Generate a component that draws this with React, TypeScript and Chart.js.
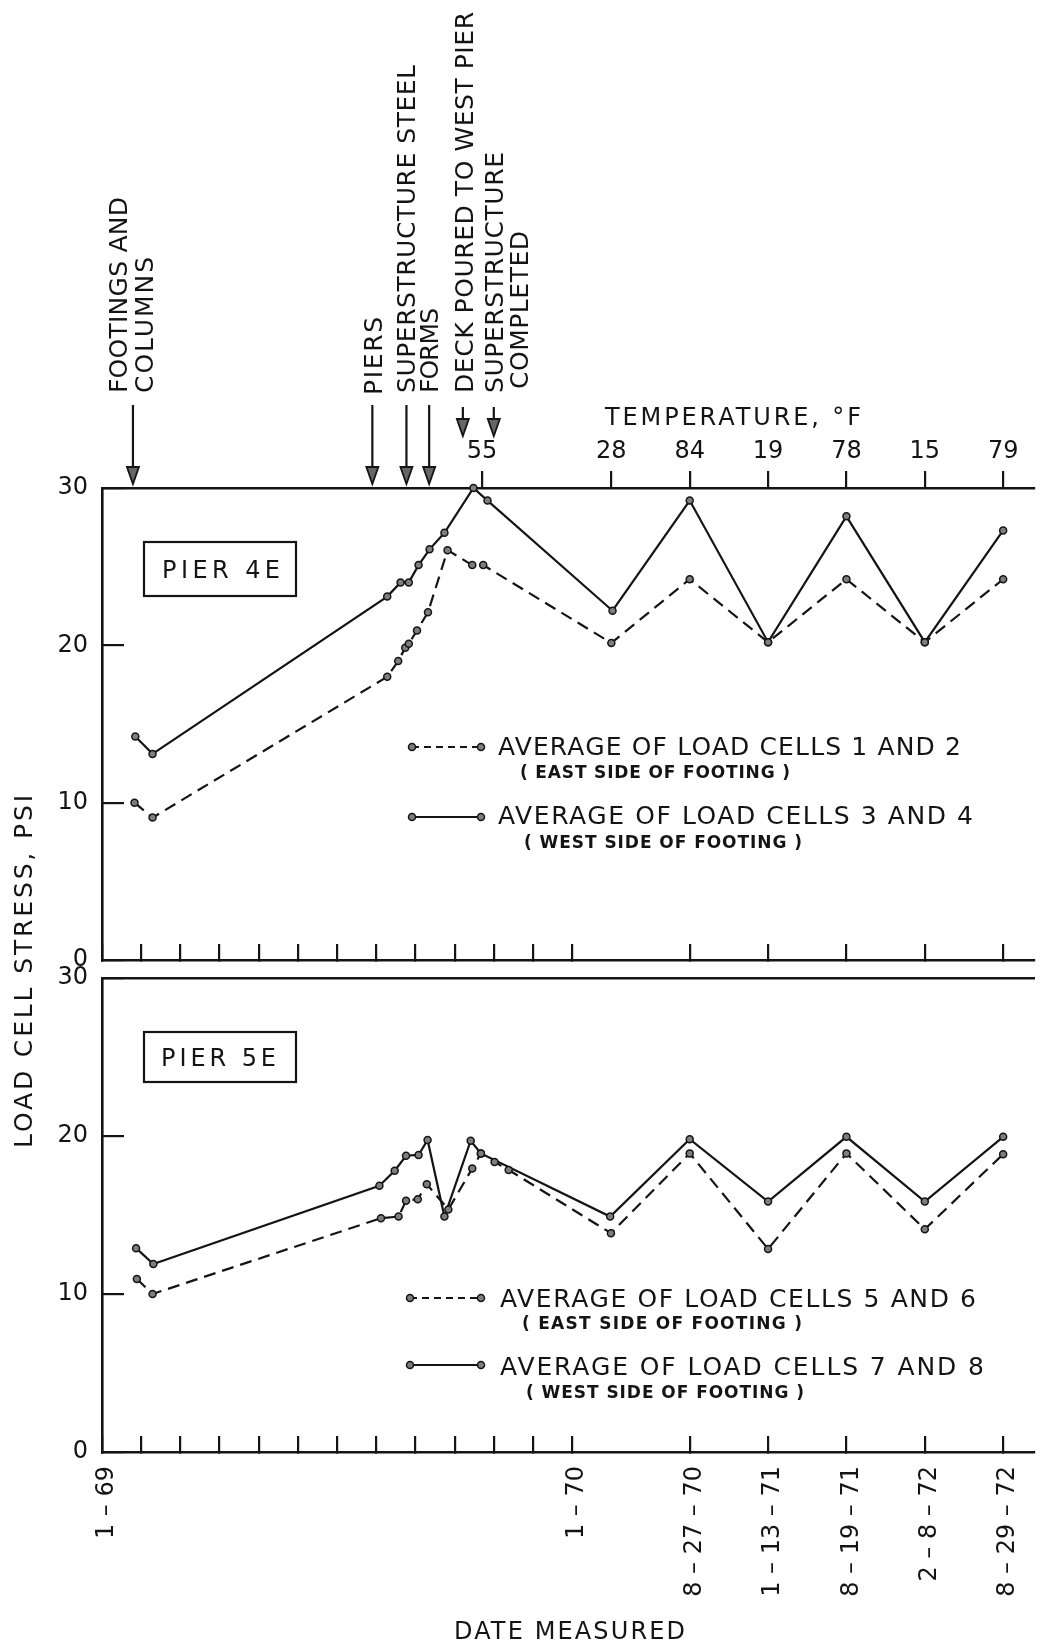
import { useEffect, useRef } from "react";
import { Chart, registerables } from "chart.js";

Chart.register(...registerables);

const FONT = '"DejaVu Sans", "Liberation Sans", sans-serif';
const INK = "#141414";
const MARK_FILL = "#7e7e7e";

// x axis unit: one month during 1969; after 1-70 each measurement date takes 2 units
const X_MAX = 23.8;
const DATE_TICKS = [0, 1, 2, 3, 4, 5, 6, 7, 8, 9, 10, 11, 12, 15, 17, 19, 21, 23];
const DATE_LABELS = ["1 – 69", "", "", "", "", "", "", "", "", "", "", "", "1 – 70", "8 – 27 – 70", "1 – 13 – 71", "8 – 19 – 71", "2 – 8 – 72", "8 – 29 – 72"];
const TEMP_TICKS = [9.7, 13, 15, 17, 19, 21, 23];
const TEMP_LABELS = ["55", "28", "84", "19", "78", "15", "79"];
const STRESS_TICKS = [0, 10, 20, 30];

const EVENT_X = [0.79, 6.9, 7.77, 8.35, 9.21, 10.0];
const EVENT_LABELS = [
  ["FOOTINGS AND", "COLUMNS"],
  ["PIERS"],
  ["SUPERSTRUCTURE STEEL"],
  ["FORMS"],
  ["DECK POURED TO WEST PIER"],
  ["SUPERSTRUCTURE", "COMPLETED"],
];

// Pier 4E
const P4_EAST_X = [0.83, 1.29, 7.28, 7.56, 7.74, 7.83, 8.04, 8.32, 8.82, 9.45, 9.73, 13.0, 15, 17, 19, 21, 23];
const P4_EAST_Y = [10.0, 9.05, 18.0, 19.0, 19.85, 20.1, 20.95, 22.1, 26.05, 25.1, 25.1, 20.15, 24.2, 20.2, 24.2, 20.2, 24.2];
const P4_WEST_X = [0.85, 1.29, 7.28, 7.62, 7.83, 8.08, 8.36, 8.74, 9.48, 9.84, 13.03, 15, 17, 19, 21, 23];
const P4_WEST_Y = [14.2, 13.1, 23.1, 24.0, 24.0, 25.1, 26.1, 27.15, 30.0, 29.2, 22.2, 29.2, 20.2, 28.2, 20.2, 27.3];

// Pier 5E
const P5_EAST_X = [0.89, 1.29, 7.12, 7.57, 7.76, 8.06, 8.29, 8.84, 9.45, 9.67, 10.02, 10.38, 12.99, 15, 17, 19, 21, 23];
const P5_EAST_Y = [10.95, 10.0, 14.8, 14.9, 15.9, 16.0, 16.95, 15.35, 17.95, 18.9, 18.35, 17.85, 13.85, 18.9, 12.85, 18.9, 14.1, 18.85];
const P5_WEST_X = [0.87, 1.31, 7.08, 7.47, 7.76, 8.08, 8.31, 8.74, 9.41, 9.67, 12.97, 15, 17, 19, 21, 23];
const P5_WEST_Y = [12.9, 11.9, 16.85, 17.8, 18.75, 18.8, 19.75, 14.9, 19.7, 18.9, 14.9, 19.8, 15.85, 19.95, 15.85, 19.95];

const P4_LABELS = ["AVERAGE OF LOAD CELLS 1 AND 2", "AVERAGE OF LOAD CELLS 3 AND 4"];
const P5_LABELS = ["AVERAGE OF LOAD CELLS 5 AND 6", "AVERAGE OF LOAD CELLS 7 AND 8"];
const SIDE_NOTES = ["( EAST SIDE OF FOOTING )", "( WEST SIDE OF FOOTING )"];

// ---- drawing style / layout (pixels) ----
const EVENT_STYLE = [
  { dx: [-15, 11], base: [393, 393], len: [196, 136], from: 405, to: 484 },
  { dx: [1], base: [395], len: [78], from: 405, to: 484 },
  { dx: [-1], base: [393], len: [328], from: 405, to: 484 },
  { dx: [0], base: [393], len: [85], from: 405, to: 484 },
  { dx: [1], base: [393], len: [381], from: 407, to: 436 },
  { dx: [0, 25], base: [393, 389], len: [241, 158], from: 407, to: 436 },
];
const LEGEND_A = {
  sx0: 412, sx1: 481,
  rows: [
    { y: 747, tx: 498, ty: 746, tw: 463, nx: 520, ny: 772, nw: 270 },
    { y: 817, tx: 498, ty: 815, tw: 475, nx: 524, ny: 842, nw: 278 },
  ],
};
const LEGEND_B = {
  sx0: 410, sx1: 481,
  rows: [
    { y: 1298, tx: 500, ty: 1298, tw: 476, nx: 522, ny: 1323, nw: 280 },
    { y: 1365, tx: 500, ty: 1366, tw: 484, nx: 526, ny: 1392, nw: 278 },
  ],
};

function drawText(ctx: any, text: string, x: number, y: number, size: number, target: number, weight = "normal", rotated = false) {
  ctx.save();
  ctx.font = `${weight} ${size}px ${FONT}`;
  ctx.letterSpacing = "0px";
  const w = ctx.measureText(text).width;
  const ls = text.length > 1 ? (target - w) / (text.length - 1) : 0;
  ctx.letterSpacing = `${ls}px`;
  ctx.fillStyle = INK;
  ctx.textAlign = "left";
  ctx.textBaseline = "alphabetic";
  const cap = size * 0.729;
  if (rotated) {
    ctx.translate(x + cap / 2, y);
    ctx.rotate(-Math.PI / 2);
    ctx.fillText(text, 0, 0);
  } else {
    ctx.fillText(text, x, y + cap / 2);
  }
  ctx.restore();
}

function drawArrow(ctx: any, x: number, y0: number, y1: number) {
  ctx.save();
  ctx.strokeStyle = INK;
  ctx.lineWidth = 2.2;
  ctx.beginPath();
  ctx.moveTo(x, y0);
  ctx.lineTo(x, y1 - 14);
  ctx.stroke();
  ctx.beginPath();
  ctx.moveTo(x - 6, y1 - 17);
  ctx.lineTo(x + 6, y1 - 17);
  ctx.lineTo(x, y1);
  ctx.closePath();
  ctx.fillStyle = "#666";
  ctx.fill();
  ctx.lineWidth = 1.8;
  ctx.stroke();
  ctx.restore();
}

function drawMarker(ctx: any, x: number, y: number) {
  ctx.beginPath();
  ctx.arc(x, y, 3.5, 0, Math.PI * 2);
  ctx.fillStyle = MARK_FILL;
  ctx.fill();
  ctx.lineWidth = 1.5;
  ctx.strokeStyle = INK;
  ctx.stroke();
}

function drawLegend(ctx: any, chart: any, lg: any) {
  chart.data.datasets.forEach((ds: any, i: number) => {
    const r = lg.rows[i];
    ctx.save();
    ctx.strokeStyle = INK;
    ctx.lineWidth = 2.2;
    ctx.setLineDash(ds.borderDash && ds.borderDash.length ? [7, 5] : []);
    ctx.beginPath();
    ctx.moveTo(lg.sx0, r.y);
    ctx.lineTo(lg.sx1, r.y);
    ctx.stroke();
    ctx.setLineDash([]);
    drawMarker(ctx, lg.sx0, r.y);
    drawMarker(ctx, lg.sx1, r.y);
    ctx.restore();
    drawText(ctx, ds.label, r.tx, r.ty, 25, r.tw);
    drawText(ctx, SIDE_NOTES[i], r.nx, r.ny, 17, r.nw, "bold");
  });
}

function drawTag(ctx: any, text: string, x: number, y: number, w: number, h: number, tx: number, tw: number) {
  ctx.save();
  ctx.strokeStyle = INK;
  ctx.lineWidth = 2.2;
  ctx.strokeRect(x, y, w, h);
  ctx.restore();
  drawText(ctx, text, tx, y + h / 2, 24, tw);
}

const decorTop = {
  id: "decorTop",
  afterDraw(chart: any) {
    const ctx = chart.ctx;
    const xs = chart.scales.x;
    EVENT_X.forEach((v, i) => {
      const px = xs.getPixelForValue(v);
      const st = EVENT_STYLE[i];
      drawArrow(ctx, px, st.from, st.to);
      EVENT_LABELS[i].forEach((t, j) => drawText(ctx, t, px + st.dx[j], st.base[j], 25, st.len[j], "normal", true));
    });
    drawText(ctx, "TEMPERATURE, °F", 605, 416, 24, 256);
    drawTag(ctx, "PIER 4E", 144, 542, 152, 54, 162, 118);
    drawLegend(ctx, chart, LEGEND_A);
    drawText(ctx, "LOAD CELL STRESS, PSI", 23, 1148, 25, 353, "normal", true);
  },
};

const decorBottom = {
  id: "decorBottom",
  afterDraw(chart: any) {
    const ctx = chart.ctx;
    drawTag(ctx, "PIER 5E", 144, 1032, 152, 50, 161, 115);
    drawLegend(ctx, chart, LEGEND_B);
    drawText(ctx, "DATE MEASURED", 454, 1630, 24, 231);
  },
};

function series(xs: number[], ys: number[]) {
  return xs.map((x, i) => ({ x, y: ys[i] }));
}

function lineStyle(dashed: boolean) {
  return {
    borderColor: INK,
    borderWidth: 2.2,
    borderDash: dashed ? [12, 7] : [],
    pointRadius: 3.5,
    pointBorderWidth: 1.5,
    pointBorderColor: INK,
    pointBackgroundColor: MARK_FILL,
    tension: 0,
    fill: false,
    clip: false,
  };
}

function makeScales(bottom: boolean) {
  return {
    x: {
      type: "linear",
      position: "bottom",
      min: 0,
      max: X_MAX,
      afterBuildTicks: (s: any) => {
        s.ticks = DATE_TICKS.map((v) => ({ value: v }));
      },
      ticks: bottom
        ? {
            display: true,
            autoSkip: false,
            minRotation: 90,
            maxRotation: 90,
            padding: 30,
            labelOffset: 5,
            color: INK,
            font: { family: FONT, size: 24 },
            callback: (_v: any, i: number) => DATE_LABELS[i],
          }
        : { display: false },
      grid: { drawOnChartArea: false, drawTicks: true, tickLength: -16, color: INK, lineWidth: 2.2 },
      border: { display: true, color: INK, width: 2.6 },
      afterFit: (s: any) => {
        s.height = bottom ? 170 : 10;
        s.paddingLeft = 0;
        s.paddingRight = 0;
      },
    },
    xTop: {
      type: "linear",
      position: "top",
      min: 0,
      max: X_MAX,
      afterBuildTicks: (s: any) => {
        s.ticks = bottom ? [] : TEMP_TICKS.map((v) => ({ value: v }));
      },
      ticks: bottom
        ? { display: false }
        : {
            display: true,
            autoSkip: false,
            minRotation: 0,
            maxRotation: 0,
            padding: 5,
            color: INK,
            font: { family: FONT, size: 24 },
            callback: (_v: any, i: number) => TEMP_LABELS[i],
          },
      grid: bottom
        ? { display: false }
        : { drawOnChartArea: false, drawTicks: true, tickLength: 17, color: INK, lineWidth: 2.2 },
      border: { display: true, color: INK, width: 2.6 },
      afterFit: (s: any) => {
        s.height = bottom ? 10 : 60;
        s.paddingLeft = 0;
        s.paddingRight = 0;
      },
    },
    y: {
      type: "linear",
      position: "left",
      min: 0,
      max: 30,
      afterBuildTicks: (s: any) => {
        s.ticks = STRESS_TICKS.map((v) => ({ value: v }));
      },
      ticks: {
        padding: 36,
        color: INK,
        font: { family: FONT, size: 24 },
        callback: (v: any) => String(v),
      },
      grid: { drawOnChartArea: false, drawTicks: true, tickLength: -22, color: INK, lineWidth: 2.2 },
      border: { display: true, color: INK, width: 2.6 },
      afterFit: (s: any) => {
        s.width = 102;
        s.paddingTop = 0;
        s.paddingBottom = 0;
      },
    },
  };
}

function makeConfig(bottom: boolean): any {
  const labels = bottom ? P5_LABELS : P4_LABELS;
  const east = bottom ? series(P5_EAST_X, P5_EAST_Y) : series(P4_EAST_X, P4_EAST_Y);
  const west = bottom ? series(P5_WEST_X, P5_WEST_Y) : series(P4_WEST_X, P4_WEST_Y);
  return {
    type: "line",
    data: {
      datasets: [
        { label: labels[0], data: east, ...lineStyle(true) },
        { label: labels[1], data: west, ...lineStyle(false) },
      ],
    },
    options: {
      animation: false,
      responsive: false,
      maintainAspectRatio: false,
      devicePixelRatio: 1,
      events: [],
      layout: {
        padding: bottom
          ? { top: 968, bottom: 20, left: 0, right: 0 }
          : { top: 428, bottom: 672, left: 0, right: 0 },
      },
      plugins: { legend: { display: false }, tooltip: { enabled: false }, title: { display: false } },
      scales: makeScales(bottom),
    },
    plugins: [bottom ? decorBottom : decorTop],
  };
}

export default function App() {
  const topRef = useRef<HTMLCanvasElement | null>(null);
  const botRef = useRef<HTMLCanvasElement | null>(null);

  useEffect(() => {
    document.body.style.margin = "0";
    Chart.defaults.font.family = FONT;
    Chart.defaults.color = INK;
    const a = new Chart(topRef.current as HTMLCanvasElement, makeConfig(false));
    const b = new Chart(botRef.current as HTMLCanvasElement, makeConfig(true));
    return () => {
      a.destroy();
      b.destroy();
    };
  }, []);

  const cs: any = { position: "absolute", left: 0, top: 0, width: 1040, height: 1642 };
  return (
    <div style={{ position: "absolute", left: 0, top: 0, width: 1040, height: 1642, background: "#fff", overflow: "hidden" }}>
      <canvas ref={topRef} width={1040} height={1642} style={cs} />
      <canvas ref={botRef} width={1040} height={1642} style={cs} />
    </div>
  );
}
